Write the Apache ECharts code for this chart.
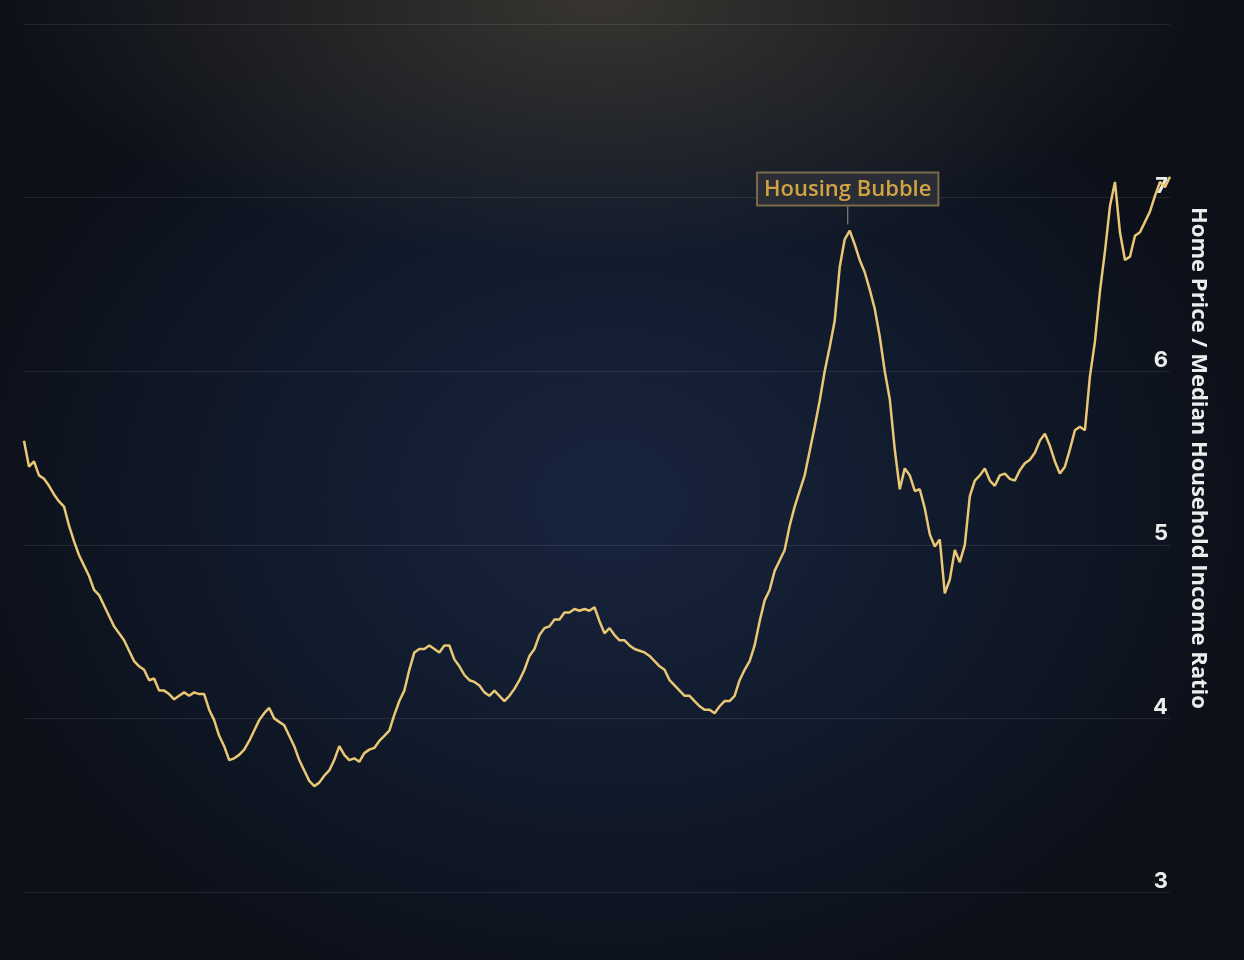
<!DOCTYPE html>
<html><head><meta charset="utf-8">
<script src="https://cdn.jsdelivr.net/npm/echarts@6/dist/echarts.min.js"></script>
<style>
html,body{margin:0;padding:0;width:1244px;height:960px;overflow:hidden;
background:radial-gradient(ellipse 600px 260px at 600px 0px, rgba(70,65,55,0.75), rgba(70,65,55,0) 100%),
radial-gradient(ellipse 650px 520px at 610px 500px, #18243e 0%, #111a2b 55%, #0c1019 100%);}
#c{width:1244px;height:960px;}
</style></head><body><div id="c"></div>
<script>
const ratios = [5.60,5.45,5.48,5.40,5.38,5.34,5.29,5.25,5.22,5.11,5.02,4.94,4.88,4.82,4.74,4.71,4.65,4.59,4.53,4.49,4.45,4.39,4.33,4.30,4.28,4.22,4.23,4.16,4.16,4.14,4.11,4.13,4.15,4.13,4.15,4.14,4.14,4.05,3.99,3.90,3.84,3.76,3.77,3.79,3.82,3.87,3.93,3.99,4.03,4.06,4.00,3.98,3.96,3.90,3.84,3.76,3.70,3.64,3.61,3.63,3.67,3.70,3.76,3.84,3.79,3.76,3.77,3.75,3.80,3.82,3.83,3.87,3.90,3.93,4.02,4.10,4.16,4.28,4.38,4.40,4.40,4.42,4.40,4.38,4.42,4.42,4.34,4.30,4.25,4.22,4.21,4.19,4.15,4.13,4.16,4.13,4.10,4.13,4.17,4.22,4.28,4.36,4.40,4.48,4.52,4.53,4.57,4.57,4.61,4.61,4.63,4.62,4.63,4.62,4.64,4.56,4.49,4.52,4.48,4.45,4.45,4.42,4.40,4.39,4.38,4.36,4.33,4.30,4.28,4.22,4.19,4.16,4.13,4.13,4.10,4.07,4.05,4.05,4.03,4.07,4.10,4.10,4.13,4.22,4.28,4.33,4.42,4.56,4.68,4.74,4.85,4.91,4.97,5.11,5.22,5.31,5.40,5.54,5.68,5.83,6.00,6.14,6.29,
6.60,6.76,6.81,6.73,6.64,6.57,6.47,6.36,6.20,6.00,5.84,5.55,5.32,5.44,5.40,5.31,5.32,5.21,5.06,4.99,5.03,4.72,4.80,4.97,4.90,5.00,5.28,5.37,
5.40,5.44,5.37,5.34,5.40,5.41,5.38,5.37,5.43,5.47,5.49,5.53,5.60,5.64,5.57,5.48,5.41,5.45,5.55,5.66,5.68,5.66,5.97,6.17,6.46,
6.69,6.95,7.09,6.80,6.64,6.66,6.78,6.80,6.86,6.92,7.01,7.09,7.06,7.12];
const periods = ratios.map((_, i) => String(i));
const yTicks = [3, 4, 5, 6, 7];
const annotationText = 'Housing Bubble';

let peak = 0;
for (let i = 0; i < Math.floor(ratios.length * 0.8); i++) if (ratios[i] > ratios[peak]) peak = i;

const chart = echarts.init(document.getElementById('c'), null, {renderer:'canvas'});
chart.setOption({
  backgroundColor: 'transparent',
  animation: false,
  grid: {left: 24, right: 74, top: 24, bottom: 68},
  xAxis: {type:'category', data: periods, boundaryGap:false, show:false},
  yAxis: {
    type:'value', position:'right', min:3, max:8, interval:1,
    name:'Home Price / Median Household Income Ratio', nameLocation:'middle', nameRotate:-90, nameGap:17,
    nameTextStyle:{color:'#ececec', fontSize:22, fontWeight:'bold', fontFamily:'"Open Sans", Inter, sans-serif'},
    axisLine:{show:false}, axisTick:{show:false},
    axisLabel:{inside:true, margin:2, verticalAlign:'bottom', color:'#ececec', fontSize:22, fontWeight:'bold',
      fontFamily:'Inter, Roboto, sans-serif', formatter: v => yTicks.includes(v) ? String(v) : ''},
    splitLine:{lineStyle:{color:'rgba(255,255,255,0.09)', width:1}}
  },
  series: [{
    type:'line', data: ratios, showSymbol:false, smooth:false,
    lineStyle:{color:'#e9c774', width:2.5},
    markPoint: {
      silent:true,
      data:[{coord:[periods[peak], ratios[peak]], symbol:'rect', symbolSize:[1.2,20], symbolOffset:[-2,-16],
        itemStyle:{color:'#888076'},
        label:{show:true, position:'top', distance:0, formatter: annotationText, color:'#d1a443', fontSize:22,
          fontWeight:600, fontFamily:'"Open Sans", Inter, sans-serif', backgroundColor:'#2a2d35',
          borderColor:'#7a6b4c', borderWidth:2, padding:[5,6,4,6]}}]
    }
  }]
});
</script></body></html>
